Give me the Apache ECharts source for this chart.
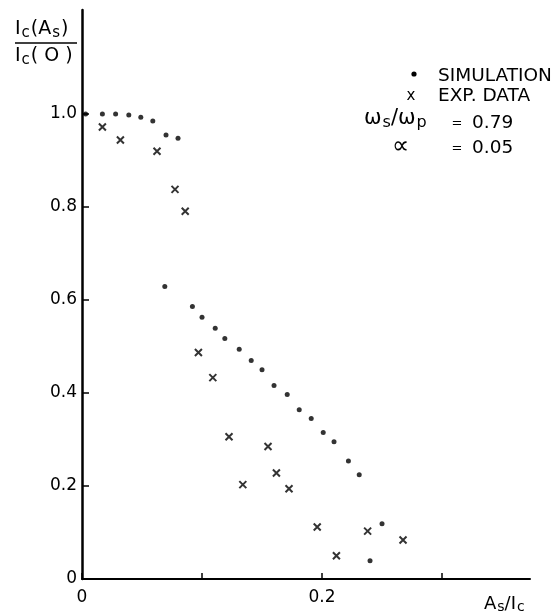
<!DOCTYPE html>
<html>
<head>
<meta charset="utf-8">
<script src="https://cdn.jsdelivr.net/npm/echarts@6/dist/echarts.min.js"></script>
<style>
html,body{margin:0;padding:0;background:#fff;}
#chart{width:560px;height:615px;}
</style>
</head>
<body>
<div id="chart"></div>
<script>
// Simulation (dots)
const simX = [0.003, 0.017, 0.028, 0.039, 0.049, 0.059, 0.070, 0.080,
              0.069, 0.092, 0.100, 0.111, 0.119, 0.131, 0.141, 0.150, 0.160,
              0.171, 0.181, 0.191, 0.201, 0.210, 0.222, 0.231, 0.240, 0.250];
const simY = [1.000, 1.000, 1.000, 0.998, 0.993, 0.985, 0.955, 0.948,
              0.629, 0.586, 0.563, 0.539, 0.517, 0.494, 0.470, 0.450, 0.416,
              0.397, 0.364, 0.345, 0.315, 0.295, 0.254, 0.224, 0.039, 0.119];
// Experimental data (crosses)
const expX = [0.017, 0.032, 0.0625, 0.0775, 0.086, 0.097, 0.109, 0.1225, 0.134,
              0.155, 0.162, 0.1725, 0.196, 0.212, 0.238, 0.2675];
const expY = [0.972, 0.944, 0.920, 0.838, 0.791, 0.487, 0.433, 0.306, 0.203,
              0.285, 0.228, 0.194, 0.112, 0.050, 0.103, 0.084];
// Tick labels
const yTicks = [0, 0.2, 0.4, 0.6, 0.8, 1.0];
const yTickLabels = ['0', '0.2', '0.4', '0.6', '0.8', '1.0'];
const xTicks = [0, 0.1, 0.2, 0.3];
const xLabelValues = [0, 0.2];
const xTickLabels = ['0', '0.2'];
// Legend / annotation texts
const legendSim = 'SIMULATION';
const legendExp = 'EXP. DATA';
const ratioValue = '0.79';
const alphaValue = '0.05';

const simData = simX.map((x, i) => [x, simY[i]]);
const expData = expX.map((x, i) => [x, expY[i]]);

const FONT = 'DejaVu Sans';
const crossPath = 'path://M0,0L10,10M10,0L0,10';
const txt = (x, y, text, size, extra) => ({type: 'text', x, y, silent: true,
  style: Object.assign({text, fontFamily: FONT, fontSize: size, fill: '#000', verticalAlign: 'middle'}, extra || {})});
const sub = {fontFamily: FONT, fill: '#000'};

const chart = echarts.init(document.getElementById('chart'), null, {renderer: 'canvas'});
chart.setOption({
  backgroundColor: '#fff',
  animation: false,
  grid: {left: 82, right: 30, top: 10, bottom: 36, containLabel: false, outerBoundsMode: 'none'},
  xAxis: {
    type: 'value', min: 0, max: 0.3733,
    axisLine: {show: true, lineStyle: {color: '#000', width: 2}},
    axisTick: {show: true, inside: true, length: 6, lineStyle: {color: '#000', width: 1.5}, customValues: xTicks},
    axisLabel: {show: true, color: '#000', fontFamily: FONT, fontSize: 17, margin: 10,
      customValues: xLabelValues,
      formatter: v => xTickLabels[xLabelValues.findIndex(t => Math.abs(t - v) < 1e-9)] || ''},
    splitLine: {show: false}
  },
  yAxis: {
    type: 'value', min: 0, max: 1.2237,
    axisLine: {show: true, lineStyle: {color: '#000', width: 2.5}},
    axisTick: {show: true, inside: true, length: 7, lineStyle: {color: '#000', width: 1.5}, customValues: yTicks},
    axisLabel: {show: true, color: '#000', fontFamily: FONT, fontSize: 17, margin: 5,
      customValues: yTicks,
      formatter: v => yTickLabels[yTicks.findIndex(t => Math.abs(t - v) < 1e-9)] || ''},
    splitLine: {show: false}
  },
  series: [
    {name: legendSim, type: 'scatter', data: simData, symbol: 'circle', symbolSize: 5,
     itemStyle: {color: '#000'}},
    {name: legendExp, type: 'scatter', data: expData, symbol: crossPath, symbolSize: [7, 7],
     itemStyle: {color: 'transparent', borderColor: '#000', borderWidth: 2}}
  ],
  graphic: [
    // y-axis title as a fraction
    {type: 'text', left: 15, top: 20, silent: true, style: {text: '{m|I}{s|c}{m|(A}{s|s}{m|)}', rich: {
      m: Object.assign({fontSize: 19}, sub), s: Object.assign({fontSize: 15, padding: [7, 1, 0, 1]}, sub)}}},
    {type: 'line', silent: true, shape: {x1: 15, y1: 43, x2: 77, y2: 43}, style: {stroke: '#000', lineWidth: 1.5}},
    {type: 'text', left: 15, top: 47, silent: true, style: {text: '{m|I}{s|c}{m|( O )}', rich: {
      m: Object.assign({fontSize: 19}, sub), s: Object.assign({fontSize: 15, padding: [7, 1, 0, 1]}, sub)}}},
    // legend
    {type: 'circle', silent: true, shape: {cx: 414, cy: 74, r: 2.6}, style: {fill: '#000'}},
    txt(438, 76, legendSim, 18.5),
    txt(411, 96, 'x', 15, {align: 'center'}),
    txt(438, 96, legendExp, 18.5),
    {type: 'text', left: 364, top: 108, silent: true, style: {text: '{m|ω}{s|s}{m|/ω}{s|p}', rich: {
      m: Object.assign({fontSize: 21}, sub), s: Object.assign({fontSize: 16, padding: [9, 0, 0, 1]}, sub)}}},
    txt(457, 124, '=', 13, {align: 'center'}),
    txt(472, 123, ratioValue, 18.5),
    txt(392, 147, '∝', 24),
    txt(457, 149, '=', 13, {align: 'center'}),
    txt(472, 148, alphaValue, 18.5),
    // x-axis title
    {type: 'text', left: 484, top: 595, silent: true, style: {text: '{m|A}{s|s}{m|/I}{s|c}', rich: {
      m: Object.assign({fontSize: 18}, sub), s: Object.assign({fontSize: 14, padding: [6, 0, 0, 1]}, sub)}}}
  ]
});
</script>
</body>
</html>
